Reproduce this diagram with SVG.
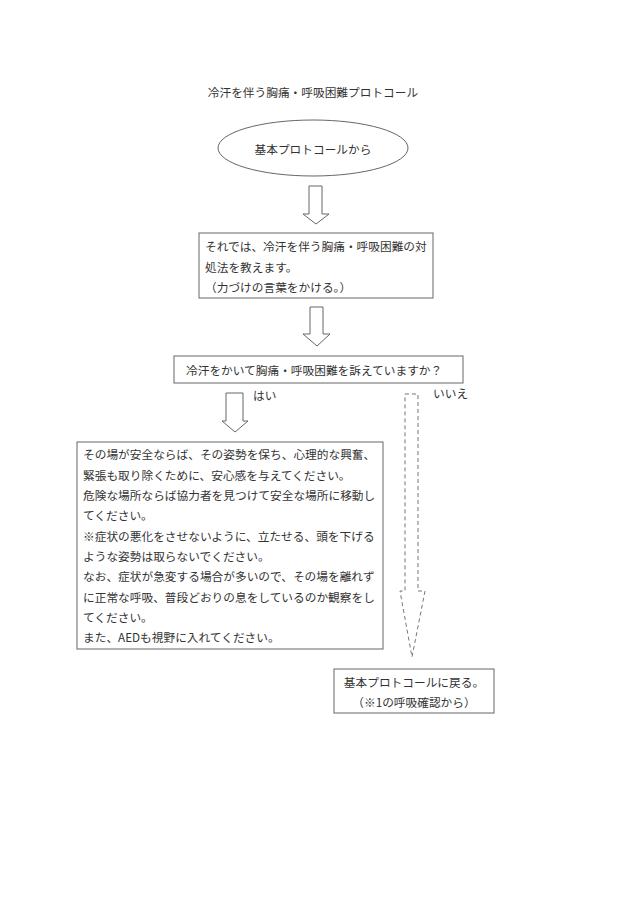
<svg xmlns="http://www.w3.org/2000/svg" width="630" height="915" viewBox="0 0 630 915">
<style>
text{font-family:"Noto Sans CJK JP","Liberation Serif",sans-serif;font-size:11.7px;fill:#333}
.shape{fill:#fff;stroke:#666;stroke-width:1}
.arrow{fill:#fff;stroke:#666;stroke-width:1}
.dash{fill:none;stroke:#777;stroke-width:1;stroke-dasharray:4 3}
.c{text-anchor:middle}
</style>
<rect width="630" height="915" fill="#fff"/>
<text class="c" x="313" y="96.5">冷汗を伴う胸痛・呼吸困難プロトコール</text>
<g id="start">
<ellipse class="shape" cx="313" cy="148" rx="95" ry="28"/>
<text class="c" x="313" y="153.5">基本プロトコールから</text>
</g>
<g id="explain">
<rect class="shape" x="199" y="233" width="234" height="65"/>
<text x="205" y="251">それでは、冷汗を伴う胸痛・呼吸困難の対</text>
<text x="205" y="272">処法を教えます。</text>
<text x="205" y="292">（力づけの言葉をかける。）</text>
</g>
<g id="question">
<rect class="shape" x="174" y="356" width="289" height="27"/>
<text x="186" y="374.5">冷汗をかいて胸痛・呼吸困難を訴えていますか？</text>
</g>
<g id="yes-action">
<rect class="shape" x="77" y="442" width="306" height="207"/>
<text x="83" y="459.4">その場が安全ならば、その姿勢を保ち、心理的な興奮、</text>
<text x="83" y="479.7">緊張も取り除くために、安心感を与えてください。</text>
<text x="83" y="500">危険な場所ならば協力者を見つけて安全な場所に移動し</text>
<text x="83" y="520.3">てください。</text>
<text x="83" y="540.6">※症状の悪化をさせないように、立たせる、頭を下げる</text>
<text x="83" y="560.9">ような姿勢は取らないでください。</text>
<text x="83" y="581.2">なお、症状が急変する場合が多いので、その場を離れず</text>
<text x="83" y="601.5">に正常な呼吸、普段どおりの息をしているのか観察をし</text>
<text x="83" y="621.8">てください。</text>
<text x="83" y="642.1">また、AEDも視野に入れてください。</text>
</g>
<g id="return">
<rect class="shape" x="334" y="669" width="160" height="44"/>
<text class="c" x="414" y="686.5">基本プロトコールに戻る。</text>
<text class="c" x="414" y="706.5">（※1の呼吸確認から）</text>
</g>
<g id="connectors">
<path class="arrow" d="M309,186 H322 V214 H329 L316,224 L303,214 H309 Z"/>
<path class="arrow" d="M310,307 H323 V334 H330 L317,346 L303,334 H310 Z"/>
<path class="arrow" d="M226,393 H243 V421 H248 L235,432 L222,421 H226 Z"/>
<path class="dash" d="M405,394 H418 V591 H425 L412,657 L400,591 H405 Z"/>
<text x="253" y="399.5">はい</text>
<text x="433" y="398">いいえ</text>
</g>
</svg>
